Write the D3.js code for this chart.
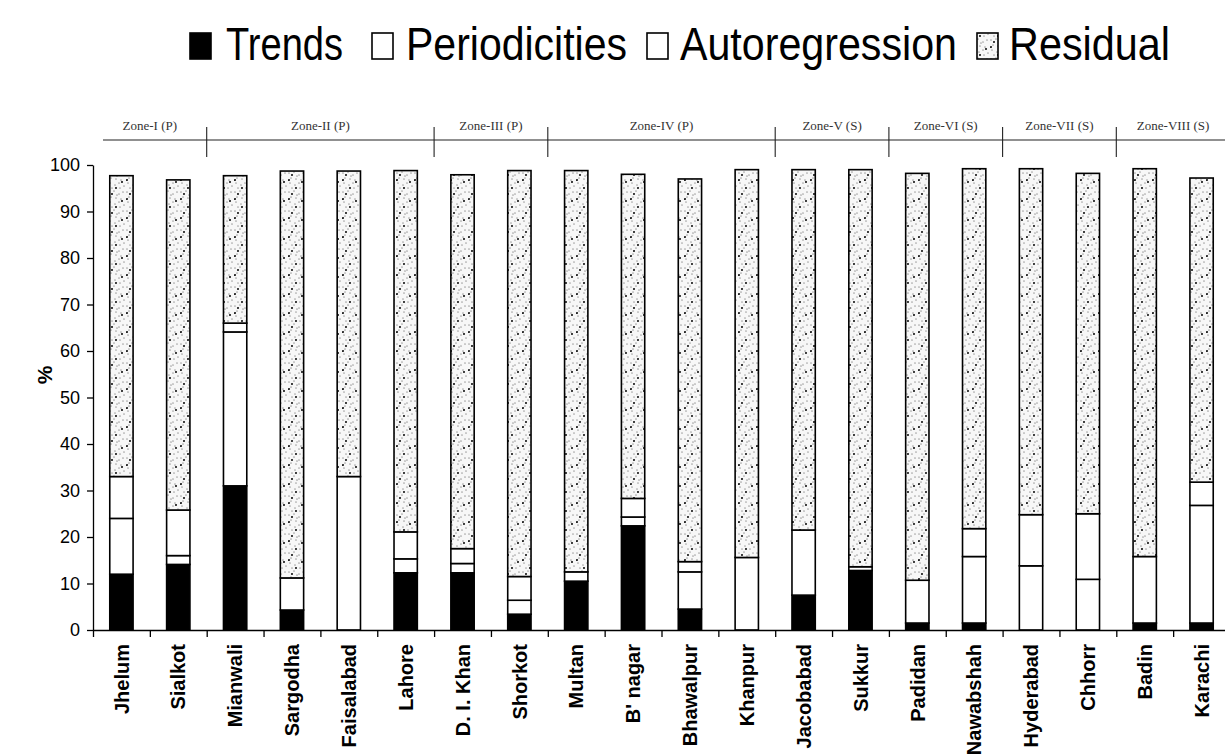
<!DOCTYPE html>
<html>
<head>
<meta charset="utf-8">
<script src="https://cdn.jsdelivr.net/npm/d3@7/dist/d3.min.js"></script>
<style>
  html, body { margin: 0; padding: 0; background: #fff; }
  svg { display: block; }
</style>
</head>
<body>
<svg id="chart" width="1225" height="754"></svg>
<script>
// ---------------- DATA ----------------
const categories = ["Jhelum", "Sialkot", "Mianwali", "Sargodha", "Faisalabad", "Lahore",
  "D. I. Khan", "Shorkot", "Multan", "B' nagar", "Bhawalpur", "Khanpur", "Jacobabad",
  "Sukkur", "Padidan", "Nawabshah", "Hyderabad", "Chhorr", "Badin", "Karachi"];

const seriesNames = ["Trends", "Periodicities", "Autoregression", "Residual"];

const trends         = [12.0, 14.1, 31.0, 4.3, 0.0, 12.3, 12.3, 3.4, 10.5, 22.4, 4.5, 0.0, 7.5, 12.8, 1.5, 1.5, 0.0, 0.0, 1.5, 1.5];
const periodicities  = [12.0, 1.9, 33.1, 6.9, 33.0, 3.0, 2.0, 3.0, 2.0, 1.9, 8.0, 15.6, 14.0, 0.8, 9.2, 14.3, 13.8, 10.9, 14.3, 25.3];
const autoregression = [9.0, 9.8, 1.9, 0.0, 0.0, 5.8, 3.2, 5.1, 0.0, 4.0, 2.2, 0.0, 0.0, 0.0, 0.0, 6.0, 11.0, 14.1, 0.0, 5.0];
const residual       = [64.7, 71.0, 31.7, 87.5, 65.7, 77.7, 80.4, 87.3, 86.3, 69.7, 82.3, 83.4, 77.5, 85.4, 87.5, 77.4, 74.4, 73.2, 83.4, 65.4];

const yTickValues = [0, 10, 20, 30, 40, 50, 60, 70, 80, 90, 100];

const zoneLabels = ["Zone-I (P)", "Zone-II (P)", "Zone-III (P)", "Zone-IV (P)",
  "Zone-V (S)", "Zone-VI (S)", "Zone-VII (S)", "Zone-VIII (S)"];
const zoneFirst = ["Jhelum", "Mianwali", "D. I. Khan", "Multan", "Jacobabad", "Padidan", "Hyderabad", "Badin"];
const zoneLast  = ["Sialkot", "Lahore", "Shorkot", "Khanpur", "Sukkur", "Nawabshah", "Chhorr", "Karachi"];

// ---------------- LAYOUT ----------------
const svg = d3.select("#chart");
const mLeft = 93, mRight = 1230, mTop = 165, mBottom = 630;

const x = d3.scaleBand().domain(categories).range([mLeft, mRight]).padding(0);
const xIdx = d3.scaleLinear().domain([0, categories.length]).range([mLeft, mRight]);
const y = d3.scaleLinear().domain([0, 100]).range([mBottom, mTop]);
const barW = x.step() * 0.41;

// pattern for residual (stippled)
const defs = svg.append("defs");
const pat = defs.append("pattern").attr("id", "stipple")
  .attr("patternUnits", "userSpaceOnUse").attr("width", 18).attr("height", 19);
pat.append("rect").attr("width", 18).attr("height", 19).attr("fill", "#f7f7f7");
const grayDots = [[1,2],[6,1],[11,4],[15,2],[3,7],[8,8],[13,9],[2,12],[7,14],[11,12],[16,15],[4,17],[12,17],[9,5]];
const blackDots = [[4,4],[14,11],[8,17],[1,9]];
pat.selectAll("circle.g").data(grayDots).join("circle").attr("class", "g")
  .attr("cx", d => d[0]).attr("cy", d => d[1]).attr("r", 0.85).attr("fill", "#a5a5a5");
pat.selectAll("circle.b").data(blackDots).join("circle").attr("class", "b")
  .attr("cx", d => d[0]).attr("cy", d => d[1]).attr("r", 1.05).attr("fill", "#111");

const fills = {
  "Trends": "#000",
  "Periodicities": "#fff",
  "Autoregression": "#fff",
  "Residual": "url(#stipple)"
};

// ---------------- STACK ----------------
const table = categories.map((c, i) => ({
  cat: c,
  Trends: trends[i],
  Periodicities: periodicities[i],
  Autoregression: autoregression[i],
  Residual: residual[i]
}));
const stacked = d3.stack().keys(seriesNames)(table);

const g = svg.append("g");
stacked.forEach(layer => {
  g.append("g").selectAll("rect")
    .data(layer.filter(d => d[1] - d[0] > 0))
    .join("rect")
    .attr("x", d => x(d.data.cat) + x.step() / 2 - barW / 2)
    .attr("width", barW)
    .attr("y", d => y(d[1]))
    .attr("height", d => y(d[0]) - y(d[1]))
    .attr("fill", fills[layer.key])
    .attr("stroke", "#000")
    .attr("stroke-width", 1.6);
});

// ---------------- AXES ----------------
const yAxis = d3.axisLeft(y).tickValues(yTickValues).tickSize(6).tickPadding(7).tickSizeOuter(0);
const ya = svg.append("g").attr("transform", `translate(${mLeft},0)`).call(yAxis);
ya.select(".domain").attr("stroke", "#000").attr("stroke-width", 1.3);
ya.selectAll(".tick line").attr("stroke", "#000").attr("stroke-width", 1.3);
ya.selectAll(".tick text").attr("font-family", "'Liberation Sans', Arial, sans-serif")
  .attr("font-size", 18).attr("fill", "#000");

// x axis: boundary ticks
const xBound = d3.axisBottom(xIdx).tickValues(d3.range(0, categories.length + 1))
  .tickSize(7).tickSizeOuter(0).tickFormat("");
const xb = svg.append("g").attr("transform", `translate(0,${mBottom})`).call(xBound);
xb.select(".domain").attr("stroke", "#000").attr("stroke-width", 1.3);
xb.selectAll(".tick line").attr("stroke", "#000").attr("stroke-width", 1.3);

// x axis: category labels
const xLab = d3.axisBottom(x).tickSize(0).tickPadding(0);
const xl = svg.append("g").attr("transform", `translate(0,${mBottom})`).call(xLab);
xl.select(".domain").remove();
xl.selectAll(".tick text")
  .attr("font-family", "'Liberation Sans', Arial, sans-serif")
  .attr("font-size", 20).attr("font-weight", "bold").attr("fill", "#000")
  .attr("text-anchor", "end")
  .attr("transform", "rotate(-90)")
  .attr("x", -14).attr("y", 0).attr("dy", "0.36em");

// y label
svg.append("text")
  .attr("transform", `translate(52,375) rotate(-90)`)
  .attr("text-anchor", "middle")
  .attr("font-family", "'Liberation Sans', Arial, sans-serif")
  .attr("font-size", 21).attr("font-weight", "bold").text("%");

// ---------------- ZONES ----------------
const zoneY = 140;
svg.append("line").attr("x1", 103).attr("x2", 1225).attr("y1", zoneY).attr("y2", zoneY)
  .attr("stroke", "#222").attr("stroke-width", 1.1);
zoneLabels.forEach((z, i) => {
  const x0 = x(zoneFirst[i]);
  const x1 = x(zoneLast[i]) + x.step();
  svg.append("text")
    .attr("x", (x0 + x1) / 2).attr("y", 130)
    .attr("text-anchor", "middle")
    .attr("font-family", "'Liberation Serif', 'Times New Roman', serif")
    .attr("font-size", 13).attr("fill", "#333").text(z);
  if (i > 0) {
    svg.append("line").attr("x1", x0).attr("x2", x0).attr("y1", 127).attr("y2", 157)
      .attr("stroke", "#222").attr("stroke-width", 1.1);
  }
});

// ---------------- LEGEND ----------------
const legendBoxX = [190, 372, 647, 977];
const legendTextX = [226, 406, 680, 1009];
const legendTextW = [117, 221, 277, 161];
const lg = svg.append("g");
seriesNames.forEach((s, i) => {
  lg.append("rect").attr("x", legendBoxX[i]).attr("y", 33).attr("width", 21).attr("height", 26)
    .attr("fill", fills[s]).attr("stroke", "#000").attr("stroke-width", 1.6);
  lg.append("text").attr("x", legendTextX[i]).attr("y", 60)
    .attr("font-family", "'Liberation Sans', Arial, sans-serif")
    .attr("font-size", 46).attr("fill", "#000")
    .attr("textLength", legendTextW[i]).attr("lengthAdjust", "spacingAndGlyphs")
    .text(s);
});
</script>
</body>
</html>
